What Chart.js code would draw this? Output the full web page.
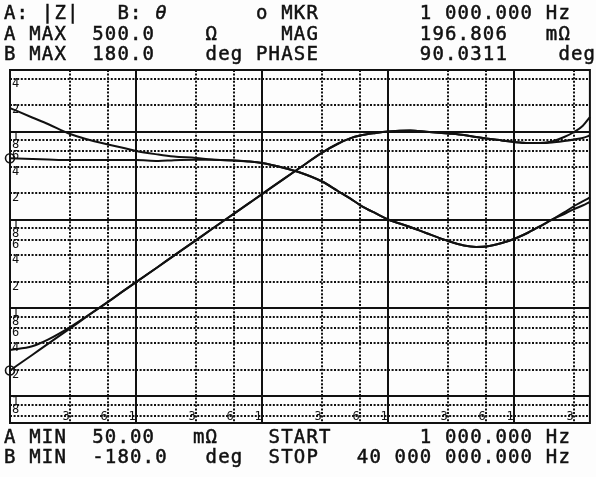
<!DOCTYPE html>
<html><head><meta charset="UTF-8"><title>|Z| / θ sweep</title>
<script src="https://cdn.jsdelivr.net/npm/chart.js"></script>
<style>
    html, body { margin: 0; padding: 0; background: #fdfdfd; }
    canvas { display: block; }
</style></head>
<body>
<canvas id="sweep" width="596" height="477"></canvas>
<script>
// --- sweep points (Hz) ---
const freqs = [1e3, 1.5e3, 2e3, 3e3, 4e3, 6e3, 8e3, 1e4, 1.5e4, 2e4, 3e4, 4e4, 6e4, 8e4, 1e5, 1.5e5, 2e5, 3e5, 4e5, 5e5,
               6e5, 8e5, 1e6, 1.5e6, 2e6, 3e6, 4e6, 5e6, 6e6, 8e6, 1e7, 1.3e7, 1.6e7, 2e7, 2.5e7, 3e7, 3.5e7, 4e7];

// |Z| in ohm, two traces
const magA = [0.197, 0.295, 0.394, 0.59, 0.79, 1.18, 1.58, 1.97, 2.95, 3.94, 5.9, 7.9, 11.8, 15.7, 19.6, 29.4, 39, 58, 73, 84,
              90.5, 96.7, 100.4, 103, 100, 95.4, 91.7, 87, 83.7, 79.5, 76.4, 74.4, 74.4, 77.4, 87, 99.2, 116, 146.6];
const magB = [0.336, 0.37, 0.44, 0.61, 0.80, 1.18, 1.58, 1.97, 2.95, 3.94, 5.9, 7.9, 11.8, 15.7, 19.6, 29.4, 39, 58, 73, 84,
              90.5, 96.7, 100.4, 103, 100, 95.4, 91.7, 87, 83.7, 79.5, 76.4, 74.4, 74.4, 75.4, 78.4, 81.6, 84.8, 90.5];

// phase in deg, two traces
const phaseA = [90.0, 89.2, 88.7, 88.2, 88.2, 88.2, 88.2, 88.2, 87.2, 88.0, 88.5, 88.5, 87.7, 86.7, 85.2, 80.1, 75.5, 66.3, 56.6, 49.0,
                42.3, 33.7, 27.5, 19.9, 13.8, 5.6, 1.0, -0.5, 0.0, 3.6, 7.7, 14.3, 20.4, 27.5, 34.7, 41.3, 45.9, 50.0];
const phaseB = [141.2, 131.6, 124.9, 114.7, 109.6, 104.0, 100.5, 97.4, 93.8, 91.8, 90.3, 88.7, 87.7, 86.7, 85.2, 80.1, 75.5, 66.3, 56.6, 49.0,
                42.3, 33.7, 27.5, 19.9, 13.8, 5.6, 1.0, -0.5, 0.0, 3.6, 7.7, 14.3, 20.4, 27.5, 33.1, 38.2, 41.8, 45.4];

// grid ticks + the digit printed next to each line
const fTicks = [3e3, 6e3, 1e4, 3e4, 6e4, 1e5, 3e5, 6e5, 1e6, 3e6, 6e6, 1e7, 3e7];
const fTickLabels = ['3', '6', '1', '3', '6', '1', '3', '6', '1', '3', '6', '1', '3'];
const zTicks = [0.06, 0.08, 0.1, 0.2, 0.4, 0.6, 0.8, 1, 2, 4, 6, 8, 10, 20, 40, 60, 80, 100, 200, 400];
const zTickLabels = ['', '8', '1', '2', '4', '6', '8', '1', '2', '4', '6', '8', '1', '2', '4', '6', '8', '1', '2', '4'];

// screen text, [column, text]
const textRows = [
    { y: 14, parts: [[0, 'A:'], [3, '|Z|'], [9, 'B:'], [12, 'θ'], [20, 'o'], [22, 'MKR'], [33, '1 000.000 Hz']] },
    { y: 35, parts: [[0, 'A MAX'], [7, '500.0'], [16, 'Ω'], [22, 'MAG'], [33, '196.806'], [43, 'mΩ']] },
    { y: 55, parts: [[0, 'B MAX'], [7, '180.0'], [16, 'deg'], [20, 'PHASE'], [33, '90.0311'], [44, 'deg']] },
    { y: 438, parts: [[0, 'A MIN'], [7, '50.00'], [15, 'mΩ'], [21, 'START'], [33, '1 000.000 Hz']] },
    { y: 458, parts: [[0, 'B MIN'], [7, '-180.0'], [16, 'deg'], [21, 'STOP'], [28, '40 000 000.000 Hz']] }
];
const X0 = 4, PITCH = 12.6;
const INK = '#111111';

const isDecade = v => Math.abs(Math.log10(v) - Math.round(Math.log10(v))) < 1e-6;
const onTick = (c, yes, no) => (c.tick && !isDecade(c.tick.value)) ? yes : no;

const gridOpts = {
    drawTicks: false,
    color: INK,
    lineWidth: 2
};
const borderOpts = {
    display: false,
    dash: c => onTick(c, [2, 1.6], [])
};
const tickFont = { family: 'DejaVu Sans Mono', size: 12 };

const screen = {
    id: 'screen',
    beforeDraw(chart) {
        const ctx = chart.ctx;
        ctx.save();
        ctx.fillStyle = '#fdfdfd';
        ctx.fillRect(0, 0, chart.width, chart.height);
        ctx.restore();
    },
    afterDraw(chart) {
        const { ctx, chartArea: a } = chart;
        ctx.save();
        ctx.strokeStyle = INK;
        ctx.lineWidth = 2;
        ctx.strokeRect(a.left, a.top, a.right - a.left, a.bottom - a.top);

        ctx.fillStyle = INK;
        ctx.strokeStyle = INK;
        ctx.lineWidth = 0.5;
        ctx.textBaseline = 'middle';
        textRows.forEach(row => {
            row.parts.forEach(([col, txt]) => {
                [...txt].forEach((ch, i) => {
                    if (ch === ' ') return;
                    const x = X0 + (col + i) * PITCH;
                    ctx.font = (ch === 'θ' ? 'italic ' : '') + '19px "DejaVu Sans Mono"';
                    ctx.fillText(ch, x, row.y);
                    ctx.strokeText(ch, x, row.y);
                });
            });
        });
        ctx.restore();
    }
};

const marker = c => c.dataIndex === 0 ? 4.5 : 0;
const trace = (data, axis, withMarker) => ({
    data, yAxisID: axis,
    borderColor: INK, borderWidth: 2,
    cubicInterpolationMode: 'monotone',
    pointRadius: withMarker ? marker : 0,
    pointHoverRadius: 0,
    pointBorderColor: INK, pointBorderWidth: 1.6,
    pointBackgroundColor: 'rgba(0,0,0,0)',
    clip: false
});

new Chart(document.getElementById('sweep'), {
    type: 'line',
    data: {
        labels: freqs,
        datasets: [
            trace(magA, 'yA', true),
            trace(magB, 'yA', false),
            trace(phaseA, 'yB', true),
            trace(phaseB, 'yB', false)
        ]
    },
    options: {
        responsive: false,
        animation: false,
        events: [],
        layout: { padding: { left: 10, right: 1, top: 70, bottom: 54 } },
        plugins: { legend: { display: false }, tooltip: { enabled: false } },
        scales: {
            x: {
                type: 'logarithmic', min: 1e3, max: 4e7,
                afterBuildTicks: s => { s.ticks = fTicks.map(v => ({ value: v })); },
                afterFit: s => { s.height = 0; },
                ticks: {
                    // mirror keeps the labels from being clipped to the 0-height axis box
                    mirror: true,
                    autoSkip: false, maxRotation: 0, minRotation: 0,
                    padding: -1, labelOffset: -4,
                    color: INK, font: tickFont,
                    callback: (v, i) => fTickLabels[i]
                },
                grid: gridOpts, border: borderOpts
            },
            yA: {
                type: 'logarithmic', position: 'left', min: 0.05, max: 500,
                afterBuildTicks: s => { s.ticks = zTicks.map(v => ({ value: v })); },
                afterFit: s => { s.width = 0; },
                ticks: {
                    mirror: true, padding: 2, labelOffset: 5,
                    autoSkip: false,
                    color: INK, font: tickFont,
                    callback: (v, i) => zTickLabels[i]
                },
                grid: gridOpts, border: borderOpts
            },
            yB: {
                type: 'linear', position: 'right', min: -180, max: 180,
                display: false
            }
        }
    },
    plugins: [screen]
});
</script>
</body></html>
